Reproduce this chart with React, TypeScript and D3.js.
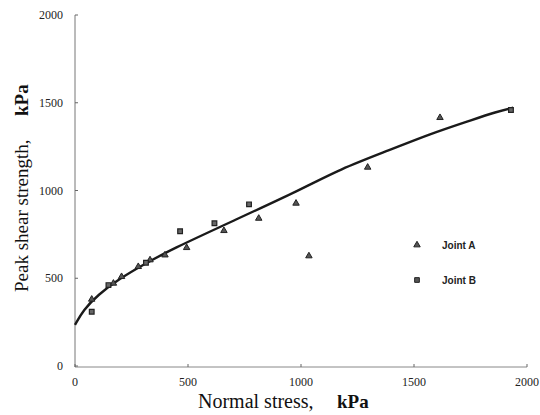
import React from "react";
import * as d3 from "d3";

const jointA: [number, number][] = [
  [74, 380], [170, 471], [206, 509], [280, 566], [332, 604], [398, 632],
  [494, 674], [659, 771], [813, 841], [978, 927], [1035, 627], [1295, 1132], [1615, 1415],
];
const jointB: [number, number][] = [
  [74, 309], [148, 461], [314, 588], [465, 768], [617, 813], [770, 921], [1929, 1459],
];
const fitCurve: [number, number][] = [
  [0, 234], [37, 319], [100, 404], [200, 500], [300, 575], [420, 661], [715, 836],
  [996, 1003], [1173, 1122], [1394, 1231], [1571, 1322], [1748, 1398], [1866, 1449], [1939, 1472],
];
const xTicks = [0, 500, 1000, 1500, 2000];
const yTicks = [0, 500, 1000, 1500, 2000];
const legendItems = ["Joint A", "Joint B"];

export default function App() {
  const x = d3.scaleLinear().domain([0, 2000]).range([75, 527]);
  const y = d3.scaleLinear().domain([0, 2000]).range([366, 15]);
  const line = d3
    .line<[number, number]>()
    .x((d) => x(d[0]))
    .y((d) => y(d[1]))
    .curve(d3.curveBasis);
  const tri = d3.symbol().type(d3.symbolTriangle).size(18)();
  const sq = d3.symbol().type(d3.symbolSquare).size(22)();
  const serif = "'Liberation Serif', 'DejaVu Serif', serif";
  return (
    <svg
      width={540}
      height={415}
      style={{ position: "absolute", left: 0, top: 0, background: "#fff" }}
    >
      <rect width={540} height={415} fill="#fff" />
      {/* axes */}
      <line x1={x(0)} x2={x(0)} y1={y(2000)} y2={y(0) + 1} stroke="#777" strokeWidth={1} />
      <line x1={x(0)} x2={x(2000)} y1={y(0) + 1} y2={y(0) + 1} stroke="#888" strokeWidth={1} />
      {yTicks.map((t) => (
        <g key={"y" + t}>
          <line x1={x(0)} x2={x(0) + 3} y1={y(t)} y2={y(t)} stroke="#666" />
          <text
            x={63}
            y={y(t)}
            dy="0.35em"
            textAnchor="end"
            fontFamily={serif}
            fontSize={12}
            fill="#222"
          >
            {t}
          </text>
        </g>
      ))}
      {xTicks.map((t) => (
        <g key={"x" + t}>
          <line x1={x(t)} x2={x(t)} y1={y(0) + 1} y2={y(0) - 2} stroke="#666" />
          <text
            x={x(t)}
            y={386}
            textAnchor="middle"
            fontFamily={serif}
            fontSize={12}
            fill="#222"
          >
            {t}
          </text>
        </g>
      ))}
      {/* axis titles */}
      <text x={198} y={408} fontFamily={serif} fontSize={20} fill="#111">
        Normal stress,
      </text>
      <text x={337} y={408} fontFamily={serif} fontSize={19} fontWeight="bold" fill="#111">
        kPa
      </text>
      <g transform="translate(28,292) rotate(-90)">
        <text x={0} y={0} fontFamily={serif} fontSize={19} fill="#111">
          Peak shear strength,
        </text>
        <text x={176} y={0} fontFamily={serif} fontSize={19} fontWeight="bold" fill="#111">
          kPa
        </text>
      </g>
      {/* fitted curve */}
      <path d={line(fitCurve) || ""} fill="none" stroke="#1a1a1a" strokeWidth={2.4} />
      {/* points */}
      {jointA.map((d, i) => (
        <path
          key={"a" + i}
          d={tri || ""}
          transform={`translate(${x(d[0])},${y(d[1])})`}
          fill="#555"
          stroke="#222"
          strokeWidth={1}
        />
      ))}
      {jointB.map((d, i) => (
        <path
          key={"b" + i}
          d={sq || ""}
          transform={`translate(${x(d[0])},${y(d[1])})`}
          fill="#666"
          stroke="#222"
          strokeWidth={1.2}
        />
      ))}
      {/* legend */}
      {legendItems.map((name, i) => (
        <g key={name} transform={`translate(417,${245 + i * 35})`}>
          <path d={(i === 0 ? tri : sq) || ""} fill="#555" stroke="#222" strokeWidth={1} />
          <text
            x={25}
            y={0}
            dy="0.35em"
            fontFamily="'Liberation Sans', Arial, sans-serif"
            fontWeight="bold"
            fontSize={10}
            fill="#222"
          >
            {name}
          </text>
        </g>
      ))}
    </svg>
  );
}
